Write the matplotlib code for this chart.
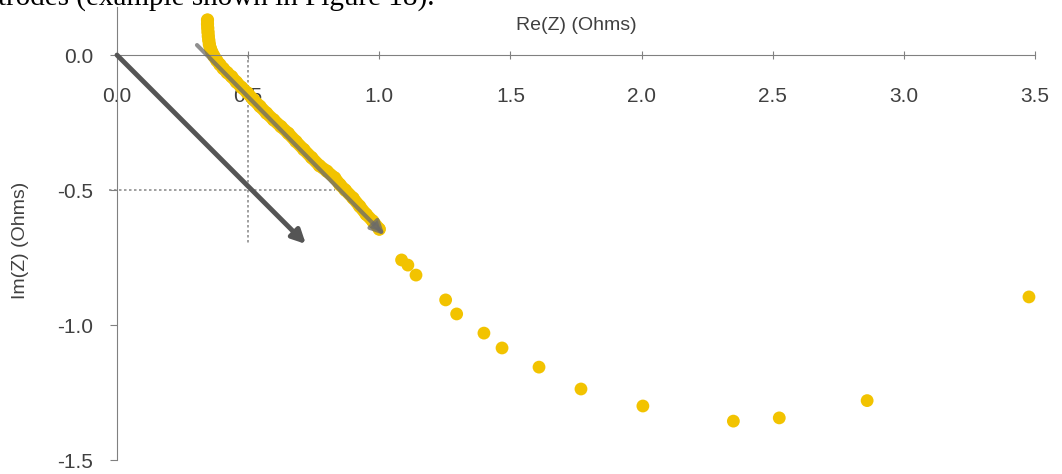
import matplotlib
matplotlib.use("Agg")
import matplotlib.pyplot as plt

# Dense high-frequency part of the Nyquist plot
re_dense = [0.345, 0.345, 0.346, 0.347, 0.348, 0.350, 0.352, 0.356, 0.362, 0.370,
            0.380, 0.392, 0.405, 0.420, 0.437, 0.455, 0.475, 0.497, 0.520, 0.545,
            0.570, 0.597, 0.625, 0.653, 0.682, 0.712, 0.742, 0.772, 0.800, 0.830,
            0.850, 0.870, 0.900, 0.925, 0.950, 0.975, 1.000]
im_dense = [0.130, 0.115, 0.100, 0.085, 0.070, 0.055, 0.040, 0.025, 0.010, -0.005,
            -0.020, -0.035, -0.050, -0.065, -0.080, -0.100, -0.120, -0.140, -0.165, -0.190,
            -0.215, -0.240, -0.265, -0.290, -0.320, -0.350, -0.380, -0.410, -0.430, -0.455,
            -0.480, -0.500, -0.530, -0.560, -0.590, -0.615, -0.645]
# Low-frequency separate points
re_sparse = [1.085, 1.109, 1.140, 1.253, 1.295, 1.399, 1.468, 1.609, 1.769, 2.005,
             2.350, 2.525, 2.860, 3.477]
im_sparse = [-0.759, -0.778, -0.815, -0.907, -0.959, -1.030, -1.085, -1.156, -1.237, -1.300,
             -1.356, -1.344, -1.280, -0.896]

# Arrows (start, end)
arrow1 = [(0.0, 0.0), (0.72, -0.70)]
arrow2 = [(0.305, 0.037), (1.02, -0.667)]
# Guide point
guide_x, guide_y = 0.5, -0.5

x_ticks = [0.0, 0.5, 1.0, 1.5, 2.0, 2.5, 3.0, 3.5]
y_ticks = [0.0, -0.5, -1.0, -1.5]

yellow = "#F2C300"
fig = plt.figure(figsize=(10.62, 4.74), dpi=100)
ax = fig.add_axes([117 / 1062, 1 - 460 / 474, 918 / 1062, (460 - 7) / 474])
ax.set_xlim(0, 3.5)
ax.set_ylim(-1.5, 0.178)

for s in ["top", "right"]:
    ax.spines[s].set_visible(False)
ax.spines["bottom"].set_position(("data", 0))
ax.spines["bottom"].set_color("#808080")
ax.spines["left"].set_color("#808080")

ax.set_xticks(x_ticks)
ax.set_xticklabels([f"{v:.1f}" for v in x_ticks])
ax.set_yticks(y_ticks)
ax.set_yticklabels([f"{v:.1f}" for v in y_ticks])
ax.tick_params(axis="x", direction="inout", length=6, color="#808080",
               labelsize=15, labelcolor="#404040", pad=20)
ax.tick_params(axis="y", direction="out", length=5, color="#808080",
               labelsize=15, labelcolor="#404040", pad=12)
for lab in ax.get_xticklabels() + ax.get_yticklabels():
    lab.set_fontfamily("Liberation Sans")

# guide lines
ax.plot([guide_x, guide_x], [0, -0.70], color="#909090", ls=(0, (1.5, 1.5)), lw=1.2, zorder=1)
ax.plot([-0.03, 0.83], [guide_y, guide_y], color="#909090", ls=(0, (1.5, 1.5)), lw=1.2,
        zorder=1, clip_on=False)

# data
ax.scatter(re_dense, im_dense, s=90, color=yellow, edgecolors="none", zorder=2)
ax.plot(re_dense, im_dense, color=yellow, lw=9, solid_capstyle="round", zorder=2)
ax.scatter(re_sparse, im_sparse, s=85, color=yellow, edgecolors="none", zorder=2, clip_on=False)

# arrows
ax.annotate("", xy=arrow1[1], xytext=arrow1[0],
            arrowprops=dict(arrowstyle="-|>,head_length=0.8,head_width=0.4",
                            color="#555555", lw=3.5, shrinkA=0, shrinkB=0), zorder=3)
ax.annotate("", xy=arrow2[1], xytext=arrow2[0],
            arrowprops=dict(arrowstyle="-|>,head_length=0.8,head_width=0.4",
                            color="#6a6a6a", lw=3, alpha=0.75, shrinkA=0, shrinkB=0), zorder=3)

fig.text(576 / 1062, 1 - 26 / 474, "Re(Z) (Ohms)", ha="center", va="center",
         fontsize=14, color="#404040", family="Liberation Sans")
fig.text(21 / 1062, 1 - 240 / 474, "Im(Z) (Ohms)", ha="center", va="center",
         rotation=90, fontsize=14, color="#404040", family="Liberation Sans")

# cropped document text at the top (only its lower part is visible, as in the reference)
fig.text(435 / 1062, 1 - 5 / 474, "trodes (example shown in Figure 18).", ha="right",
         va="baseline", fontsize=21, color="black", family="Liberation Serif")

fig.savefig("out.png", dpi=100)
